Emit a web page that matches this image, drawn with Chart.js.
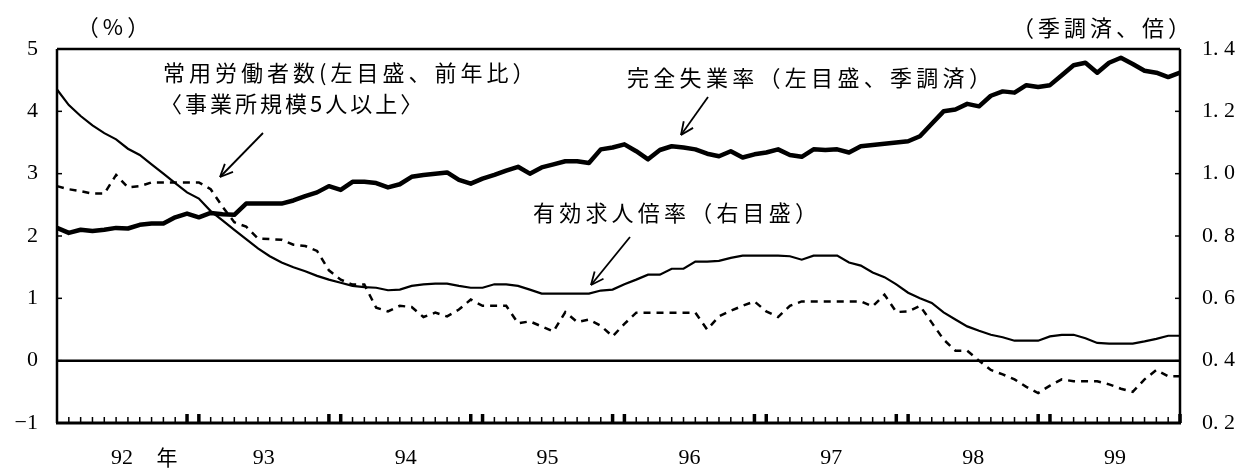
<!DOCTYPE html>
<html lang="ja">
<head>
<meta charset="UTF-8">
<title>完全失業率・有効求人倍率・常用労働者数</title>
<style>
  html, body { margin: 0; padding: 0; background: #fff; }
</style>
</head>
<body>
<canvas id="chart" width="1242" height="469"></canvas>
<script src="https://cdn.jsdelivr.net/npm/chart.js@4.4.0/dist/chart.umd.min.js"></script>
<script>
// months Jan 1992 .. Dec 1999
const years = [1992, 1993, 1994, 1995, 1996, 1997, 1998, 1999];
const yearLabels = ['92', '93', '94', '95', '96', '97', '98', '99'];
const months = [];
years.forEach(y => { for (let m = 1; m <= 12; m++) months.push(y + '/' + m); });

// 完全失業率 (左目盛、季調済) %
const unemployment = [
  2.13, 2.05, 2.10, 2.08, 2.10, 2.13, 2.12, 2.18, 2.20, 2.20, 2.30, 2.36,
  2.30, 2.37, 2.35, 2.34, 2.52, 2.52, 2.52, 2.52, 2.57, 2.64, 2.70, 2.80,
  2.74, 2.87, 2.87, 2.85, 2.78, 2.83, 2.95, 2.98, 3.00, 3.02, 2.90, 2.84,
  2.92, 2.98, 3.05, 3.11, 3.00, 3.10, 3.15, 3.20, 3.20, 3.17, 3.39, 3.42,
  3.47, 3.36, 3.23, 3.38, 3.44, 3.42, 3.39, 3.32, 3.28, 3.36, 3.26, 3.31,
  3.34, 3.39, 3.30, 3.27, 3.39, 3.38, 3.39, 3.34, 3.44, 3.46, 3.48, 3.50,
  3.52, 3.60, 3.80, 4.00, 4.03, 4.12, 4.08, 4.25, 4.32, 4.30, 4.42, 4.39,
  4.42, 4.58, 4.74, 4.78, 4.62, 4.78, 4.86, 4.76, 4.65, 4.62, 4.55, 4.62
];

// 有効求人倍率 (右目盛) 倍
const jobRatio = [
  1.27, 1.22, 1.185, 1.155, 1.13, 1.11, 1.08, 1.06, 1.03, 1.00, 0.97, 0.94,
  0.92, 0.88, 0.85, 0.82, 0.79, 0.76, 0.735, 0.715, 0.70, 0.687, 0.672, 0.66,
  0.65, 0.64, 0.636, 0.634, 0.626, 0.628, 0.64, 0.645, 0.647, 0.647, 0.64, 0.634,
  0.634, 0.645, 0.645, 0.64, 0.628, 0.615, 0.615, 0.615, 0.615, 0.615, 0.625, 0.628,
  0.645, 0.66, 0.676, 0.676, 0.695, 0.695, 0.718, 0.718, 0.72, 0.73, 0.737, 0.737,
  0.737, 0.737, 0.735, 0.724, 0.737, 0.737, 0.737, 0.715, 0.705, 0.683, 0.668, 0.645,
  0.618, 0.60, 0.585, 0.555, 0.532, 0.51, 0.496, 0.483, 0.475, 0.464, 0.464, 0.464,
  0.478, 0.483, 0.483, 0.472, 0.457, 0.455, 0.455, 0.455, 0.462, 0.47, 0.48, 0.48
];

// 常用労働者数 (左目盛、前年比) %
const regularWorkers = [
  2.80, 2.75, 2.72, 2.68, 2.68, 2.98, 2.78, 2.80, 2.86, 2.86, 2.86, 2.86,
  2.86, 2.75, 2.47, 2.22, 2.15, 1.96, 1.95, 1.94, 1.86, 1.84, 1.76, 1.45,
  1.30, 1.22, 1.22, 0.85, 0.79, 0.88, 0.86, 0.70, 0.77, 0.71, 0.82, 0.98,
  0.88, 0.88, 0.88, 0.60, 0.63, 0.55, 0.47, 0.78, 0.62, 0.66, 0.56, 0.39,
  0.59, 0.77, 0.77, 0.77, 0.77, 0.77, 0.77, 0.50, 0.71, 0.80, 0.88, 0.95,
  0.79, 0.70, 0.88, 0.95, 0.95, 0.95, 0.95, 0.95, 0.95, 0.87, 1.06, 0.78,
  0.79, 0.88, 0.61, 0.34, 0.16, 0.16, 0.00, -0.15, -0.22, -0.30, -0.42, -0.52,
  -0.40, -0.30, -0.33, -0.33, -0.33, -0.38, -0.45, -0.50, -0.30, -0.15, -0.25, -0.25
];

const numFont = 'Liberation Serif';
const jpFont = '"Noto Sans CJK JP"';

function line(ctx, x0, y0, x1, y1) {
  ctx.beginPath(); ctx.moveTo(x0, y0); ctx.lineTo(x1, y1); ctx.stroke();
}

function arrow(ctx, x0, y0, x1, y1) {
  ctx.lineWidth = 1.8;
  line(ctx, x0, y0, x1, y1);
  const ang = Math.atan2(y1 - y0, x1 - x0);
  const len = 14, spread = 0.42;
  line(ctx, x1, y1, x1 - len * Math.cos(ang - spread), y1 - len * Math.sin(ang - spread));
  line(ctx, x1, y1, x1 - len * Math.cos(ang + spread), y1 - len * Math.sin(ang + spread));
}

function label(ctx, text, x, y, spacing) {
  ctx.font = '22px ' + jpFont;
  ctx.letterSpacing = spacing + 'px';
  ctx.textAlign = 'left';
  ctx.textBaseline = 'middle';
  ctx.fillText(text, x, y);
  ctx.letterSpacing = '0px';
}

const decor = {
  id: 'decor',
  afterDatasetsDraw(chart) {
    const { ctx, chartArea: a, scales } = chart;
    const x = scales.x, y = scales.y, y1 = scales.y1;
    ctx.save();
    ctx.strokeStyle = '#000';
    ctx.fillStyle = '#000';

    // zero line
    ctx.lineWidth = 2.5;
    const y0 = y.getPixelForValue(0);
    line(ctx, a.left, y0, a.right, y0);

    // frame
    ctx.lineWidth = 2.5;
    line(ctx, a.left, a.top, a.right, a.top);
    line(ctx, a.left, a.top, a.left, a.bottom);
    line(ctx, a.right, a.top, a.right, a.bottom);
    ctx.lineWidth = 3;
    line(ctx, a.left - 1, a.bottom, a.right + 1, a.bottom);

    // monthly ticks, bold pair at Dec/Jan
    for (let i = 1; i < months.length; i++) {
      const px = x.getPixelForValue(i);
      const bold = i % 12 === 0 || i % 12 === 11;
      ctx.lineWidth = bold ? 3.5 : 1.5;
      line(ctx, px, a.bottom, px, a.bottom - (bold ? 9 : 6));
    }

    // inner ticks on value axes
    ctx.lineWidth = 1.5;
    y.ticks.forEach(t => {
      const py = y.getPixelForValue(t.value);
      line(ctx, a.left, py, a.left + 5, py);
    });
    y1.ticks.forEach(t => {
      const py = y1.getPixelForValue(t.value);
      line(ctx, a.right - 5, py, a.right, py);
    });

    // year labels under axis
    ctx.font = '22px ' + numFont;
    ctx.textAlign = 'center';
    ctx.textBaseline = 'middle';
    yearLabels.forEach((lab, k) => {
      ctx.fillText(lab, x.getPixelForValue(k * 12 + 5.5), a.bottom + 35);
    });
    ctx.font = '21px ' + jpFont;
    ctx.fillText('年', x.getPixelForValue(5.5) + 45, a.bottom + 34);

    // unit captions
    ctx.font = '22px ' + jpFont;
    ctx.letterSpacing = '4px';
    ctx.fillText('（%）', 115, 27);
    ctx.fillText('（季調済、倍）', 1103, 28);
    ctx.letterSpacing = '0px';

    // series annotations
    label(ctx, '常用労働者数(左目盛、前年比）', 163, 73, 4);
    label(ctx, '〈事業所規模5人以上〉', 160, 104, 3);
    arrow(ctx, 263, 133, 220, 177);
    label(ctx, '完全失業率（左目盛、季調済）', 627, 78, 4.3);
    arrow(ctx, 708, 97, 681, 135);
    label(ctx, '有効求人倍率（右目盛）', 533, 213, 4.2);
    arrow(ctx, 630, 237, 591, 285);

    ctx.restore();
  }
};

const tickFont = { family: numFont, size: 22 };

new Chart(document.getElementById('chart'), {
  type: 'line',
  data: {
    labels: months,
    datasets: [
      {
        label: '有効求人倍率', data: jobRatio, yAxisID: 'y1',
        borderColor: '#000', borderWidth: 2.2, pointRadius: 0, tension: 0
      },
      {
        label: '常用労働者数', data: regularWorkers, yAxisID: 'y',
        borderColor: '#000', borderWidth: 2.5, borderDash: [7, 6], pointRadius: 0, tension: 0
      },
      {
        label: '完全失業率', data: unemployment, yAxisID: 'y',
        borderColor: '#000', borderWidth: 4.5, borderJoinStyle: 'round', pointRadius: 0, tension: 0
      }
    ]
  },
  options: {
    responsive: false,
    animation: false,
    layout: { padding: { top: 49, bottom: 46 } },
    plugins: { legend: { display: false }, tooltip: { enabled: false } },
    scales: {
      x: { display: false },
      y: {
        position: 'left', min: -1, max: 5,
        afterFit: s => { s.width = 57; },
        grid: { display: false, drawTicks: false },
        border: { display: false },
        ticks: {
          stepSize: 1, padding: 19, color: '#000', font: tickFont,
          callback: v => v < 0 ? '−' + Math.abs(v) : String(v)
        }
      },
      y1: {
        position: 'right', min: 0.2, max: 1.4,
        afterFit: s => { s.width = 62; },
        grid: { display: false, drawTicks: false },
        border: { display: false },
        ticks: {
          stepSize: 0.2, padding: 22, color: '#000', font: tickFont,
          callback: v => v.toFixed(1).replace('.', '. ')
        }
      }
    }
  },
  plugins: [decor]
});
</script>
</body>
</html>
